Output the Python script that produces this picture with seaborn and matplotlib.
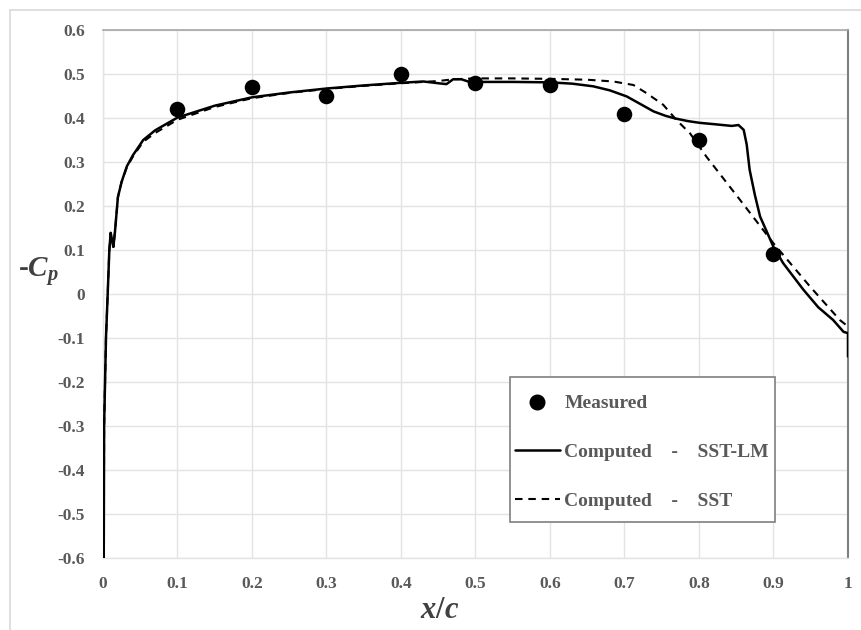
import numpy as np
import pandas as pd
import matplotlib
matplotlib.use("Agg")
import matplotlib.pyplot as plt
from matplotlib.lines import Line2D
from matplotlib.patches import Rectangle
import seaborn as sns

# ---- data ----
x_meas = [0.1, 0.2, 0.3, 0.4, 0.5, 0.6, 0.7, 0.8, 0.9]
cp_meas = [0.42, 0.47, 0.45, 0.50, 0.48, 0.475, 0.41, 0.35, 0.09]

x_lm = [0.001, 0.0015, 0.004, 0.0063, 0.0085, 0.0103, 0.0125, 0.0139, 0.016, 0.02,
        0.025, 0.032, 0.04, 0.054, 0.07, 0.1, 0.15, 0.2, 0.25, 0.3, 0.35, 0.4,
        0.43, 0.45, 0.461, 0.47, 0.481, 0.49, 0.5, 0.55, 0.6, 0.63, 0.658, 0.68,
        0.703, 0.72, 0.739, 0.755, 0.768, 0.785, 0.801, 0.82, 0.844, 0.853, 0.86,
        0.864, 0.868, 0.875, 0.882, 0.9, 0.913, 0.94, 0.96, 0.98, 0.994, 1.0, 1.0]
cp_lm = [-0.6, -0.3, -0.1, 0.0, 0.1, 0.139, 0.12, 0.107, 0.14, 0.22,
         0.255, 0.29, 0.315, 0.35, 0.372, 0.401, 0.428, 0.447, 0.458, 0.467, 0.474, 0.48,
         0.483, 0.479, 0.477, 0.488, 0.488, 0.483, 0.482, 0.482, 0.481, 0.478, 0.472, 0.463,
         0.449, 0.433, 0.415, 0.405, 0.399, 0.393, 0.389, 0.386, 0.382, 0.384, 0.373,
         0.34, 0.282, 0.225, 0.176, 0.107, 0.07, 0.01, -0.03, -0.059, -0.086, -0.089, -0.142]

x_sst = [0.001, 0.0015, 0.004, 0.0063, 0.0085, 0.0103, 0.0125, 0.0139, 0.016, 0.02,
         0.025, 0.032, 0.04, 0.054, 0.07, 0.1, 0.15, 0.2, 0.25, 0.3, 0.35, 0.4,
         0.43, 0.45, 0.47, 0.5, 0.55, 0.6, 0.65, 0.685, 0.712, 0.73, 0.752, 0.77,
         0.788, 0.81, 0.855, 0.9, 0.949, 0.989, 1.0]
cp_sst = [-0.6, -0.3, -0.1, 0.0, 0.1, 0.139, 0.12, 0.107, 0.14, 0.22,
          0.255, 0.288, 0.312, 0.346, 0.366, 0.396, 0.425, 0.445, 0.457, 0.466, 0.473, 0.479,
          0.482, 0.484, 0.488, 0.49, 0.49, 0.489, 0.487, 0.483, 0.475, 0.456, 0.43, 0.395,
          0.365, 0.312, 0.214, 0.115, 0.017, -0.059, -0.074]

x_ticks = [0, 0.1, 0.2, 0.3, 0.4, 0.5, 0.6, 0.7, 0.8, 0.9, 1]
x_ticklabels = ["0", "0.1", "0.2", "0.3", "0.4", "0.5", "0.6", "0.7", "0.8", "0.9", "1"]
y_ticks = [0.6, 0.5, 0.4, 0.3, 0.2, 0.1, 0, -0.1, -0.2, -0.3, -0.4, -0.5, -0.6]
y_ticklabels = ["0.6", "0.5", "0.4", "0.3", "0.2", "0.1", "0", "-0.1", "-0.2", "-0.3",
                "-0.4", "-0.5", "-0.6"]
legend_labels = ["Measured", "Computed    -    SST-LM", "Computed    -    SST"]

# ---- style ----
sns.set_theme(style="white")
plt.rcParams["font.family"] = ["Liberation Serif", "DejaVu Serif"]
plt.rcParams["mathtext.fontset"] = "custom"
plt.rcParams["mathtext.it"] = "Liberation Serif:italic:bold"
plt.rcParams["mathtext.rm"] = "Liberation Serif:bold"
plt.rcParams["mathtext.bf"] = "Liberation Serif:bold"

TICK_C = "#595959"
GRID_C = "#e3e3e3"
LABEL_C = "#404040"
DASH = (3.6, 2.8)

fig = plt.figure(figsize=(8.62, 6.3), dpi=100)
ax = fig.add_axes([103 / 862, 1 - 558 / 630, 745 / 862, 528 / 630])

df_lm = pd.DataFrame({"x": x_lm, "cp": cp_lm})
df_sst = pd.DataFrame({"x": x_sst, "cp": cp_sst})
df_m = pd.DataFrame({"x": x_meas, "cp": cp_meas})

sns.lineplot(data=df_sst, x="x", y="cp", sort=False, estimator=None, ax=ax,
             color="black", linewidth=1.5, zorder=3)
ax.lines[-1].set_dashes(DASH)
sns.lineplot(data=df_lm, x="x", y="cp", sort=False, estimator=None, ax=ax,
             color="black", linewidth=1.8, zorder=4)
sns.scatterplot(data=df_m, x="x", y="cp", ax=ax, color="black", s=125,
                edgecolor="black", linewidth=0, zorder=5)

ax.set_xlim(0, 1)
ax.set_ylim(-0.6, 0.6)
ax.set_xticks(x_ticks)
ax.set_xticklabels(x_ticklabels)
ax.set_yticks(y_ticks)
ax.set_yticklabels(y_ticklabels)
ax.set_xlabel("")
ax.set_ylabel("")
ax.grid(True, color=GRID_C, linewidth=1.0)
ax.set_axisbelow(True)
ax.tick_params(axis="both", which="major", length=5, width=1, color=GRID_C,
               labelcolor=TICK_C, labelsize=12.5, direction="out")
ax.tick_params(axis="y", pad=8)
ax.tick_params(axis="x", pad=8)
for lab in ax.get_xticklabels() + ax.get_yticklabels():
    lab.set_fontweight("bold")

for side in ["left", "bottom"]:
    ax.spines[side].set_color(GRID_C)
    ax.spines[side].set_linewidth(1.0)
ax.spines["top"].set_color("#a6a6a6")
ax.spines["top"].set_linewidth(1.2)
ax.spines["right"].set_color("#7f7f7f")
ax.spines["right"].set_linewidth(1.5)

# axis labels
fig.text(38 / 862, 1 - 272 / 630, r"-$C_p$", fontsize=21, fontweight="bold",
         color=LABEL_C, ha="center", va="center")
fig.text(440 / 862, 1 - 610 / 630, r"$x/c$", fontsize=22, color=LABEL_C,
         ha="center", va="center")

# legend box
bx0, bx1, by0, by1 = 510, 775, 377, 522
ax.add_patch(Rectangle(((bx0 - 103) / 745, (558 - by1) / 528),
                       (bx1 - bx0) / 745, (by1 - by0) / 528,
                       transform=ax.transAxes, facecolor="white",
                       edgecolor="#7f7f7f", linewidth=1.2, zorder=6))

handles = [
    Line2D([], [], marker="o", linestyle="none", color="black", markersize=10.5),
    Line2D([], [], color="black", linewidth=1.8),
    Line2D([], [], color="black", linewidth=1.5, dashes=DASH),
]
leg = ax.legend(handles, legend_labels, loc="upper left",
                bbox_to_anchor=((bx0 - 103) / 745, (558 - 390) / 528),
                frameon=False,
                prop={"family": "Liberation Serif", "weight": "bold", "size": 14},
                labelspacing=1.6, handlelength=2.3, handletextpad=0.25,
                borderaxespad=0, borderpad=0.25)
leg.set_zorder(7)
for t in leg.get_texts():
    t.set_color(TICK_C)

# outer chart frame
fig.add_artist(Line2D([10 / 862, 10 / 862], [0, 1 - 10 / 630], transform=fig.transFigure,
                      color="#d9d9d9", linewidth=1.2))
fig.add_artist(Line2D([10 / 862, 1], [1 - 10 / 630, 1 - 10 / 630], transform=fig.transFigure,
                      color="#d9d9d9", linewidth=1.2))

fig.savefig("out.png", dpi=100, facecolor="white")
